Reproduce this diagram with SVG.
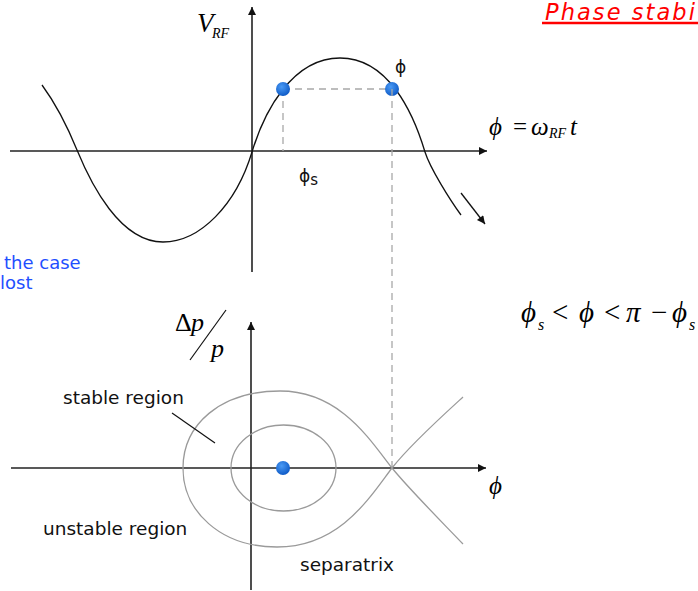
<svg xmlns="http://www.w3.org/2000/svg" width="698" height="591" viewBox="0 0 698 591">
<style>
.axis{stroke:#222;stroke-width:1.6;fill:none}
.curve{stroke:#111;stroke-width:1.3;fill:none}
.dash{stroke:#a8a8a8;stroke-width:1.3;stroke-dasharray:7 5;fill:none}
.orbit{stroke:#9a9a9a;stroke-width:1.3;fill:none}
.math{font-family:"Liberation Serif","DejaVu Serif",serif;font-style:italic;fill:#000}
.up{font-style:normal}
.lbl{font-family:"DejaVu Sans","Liberation Sans",sans-serif;font-size:18.5px;fill:#111}
.greek{font-family:"DejaVu Sans","Liberation Sans",sans-serif;font-size:17px;fill:#111}
.blue{font-family:"DejaVu Sans","Liberation Sans",sans-serif;font-size:18px;fill:#1f4fff}
</style>
<defs>
<marker id="arr" viewBox="0 0 10 10" refX="10" refY="5" markerWidth="10" markerHeight="8" markerUnits="userSpaceOnUse" orient="auto">
<path d="M0,0 L10,5 L0,10 z" fill="#111"/>
</marker>
<radialGradient id="dotg" cx="0.4" cy="0.35" r="0.7">
<stop offset="0" stop-color="#4a9af5"/>
<stop offset="1" stop-color="#0b57c4"/>
</radialGradient>
</defs>

<g id="title">
<text x="545" y="19.5" font-family="DejaVu Sans, Liberation Sans, sans-serif" font-size="22.5" font-style="italic" fill="#ff0000" textLength="150" lengthAdjust="spacing">Phase stabi</text>
<line x1="542" y1="23" x2="698" y2="23" stroke="#ff0000" stroke-width="2.4"/>
</g>

<g id="side-text">
<text class="blue" x="4" y="269">the case</text>
<text class="blue" x="0" y="289">lost</text>
</g>

<g id="top-plot">
<line class="axis" x1="10" y1="151" x2="487" y2="151" marker-end="url(#arr)"/>
<line class="axis" x1="252" y1="272" x2="252" y2="7" marker-end="url(#arr)"/>
<path class="curve" d="M42,85 C56,104 68,128 77,150 C91,184 120,242 163,242 C200,242 236,205 252,152 C264,112 292,58 340,58 C388,58 413,112 425,152 C430,168 450,200 461,215"/>
<line x1="461" y1="193" x2="485" y2="224" stroke="#111" stroke-width="1.3" marker-end="url(#arr)"/>
<line class="dash" x1="283" y1="89" x2="392" y2="89"/>
<line class="dash" x1="283" y1="89" x2="283" y2="151"/>
<circle cx="283" cy="89" r="7" fill="url(#dotg)"/>
<circle cx="392" cy="89" r="7" fill="url(#dotg)"/>
<text class="greek" x="395" y="73">ϕ</text>
<text class="greek" x="299" y="182">ϕ<tspan font-size="15" dy="3">s</tspan></text>
<text class="math" x="197" y="32" font-size="27">V</text>
<text class="math" x="212" y="38" font-size="14">RF</text>
<text class="math" x="489" y="135" font-size="25">ϕ</text>
<text class="math up" x="513" y="135" font-size="25">=</text>
<text class="math" x="531" y="135" font-size="25">ω</text>
<text class="math" x="549" y="138" font-size="14">RF</text>
<text class="math" x="570" y="135" font-size="25">t</text>
</g>

<g id="condition">
<text class="math" x="521" y="322" font-size="29">ϕ</text>
<text class="math" x="538" y="330" font-size="16">s</text>
<text class="math up" x="552" y="322" font-size="29">&lt;</text>
<text class="math" x="579" y="322" font-size="29">ϕ</text>
<text class="math up" x="604" y="322" font-size="29">&lt;</text>
<text class="math" x="626" y="322" font-size="29">π</text>
<text class="math up" x="651" y="322" font-size="29">−</text>
<text class="math" x="672" y="322" font-size="29">ϕ</text>
<text class="math" x="689" y="330" font-size="16">s</text>
</g>

<g id="dashed-link">
<line class="dash" x1="392" y1="89" x2="392" y2="467"/>
</g>

<g id="bottom-plot">
<line class="axis" x1="11" y1="468" x2="486" y2="468" marker-end="url(#arr)" stroke="#444"/>
<line class="axis" x1="251" y1="590" x2="251" y2="322" marker-end="url(#arr)"/>
<ellipse class="orbit" cx="283.5" cy="468" rx="52.5" ry="43"/>
<path class="orbit" d="M463,397 C440,418 410,445 392,468 C370,497 340,547 277,547 C220,547 183,511 183,468 C183,425 220,391 280,391 C340,391 370,440 392,468 C410,490 440,520 463,544"/>
<circle cx="283" cy="468" r="7" fill="url(#dotg)"/>
<line x1="172" y1="413" x2="215" y2="443" stroke="#111" stroke-width="1.2"/>
<text class="lbl" x="63" y="404">stable region</text>
<text class="lbl" x="43" y="535">unstable region</text>
<text class="lbl" x="300" y="571">separatrix</text>
<text class="math" x="489" y="494" font-size="25">ϕ</text>
<text class="math up" x="175" y="331" font-size="26">Δ</text>
<text class="math" x="191" y="331" font-size="26">p</text>
<line x1="226" y1="310" x2="190" y2="360" stroke="#111" stroke-width="1.2"/>
<text class="math" x="211" y="357" font-size="26">p</text>
</g>
</svg>
